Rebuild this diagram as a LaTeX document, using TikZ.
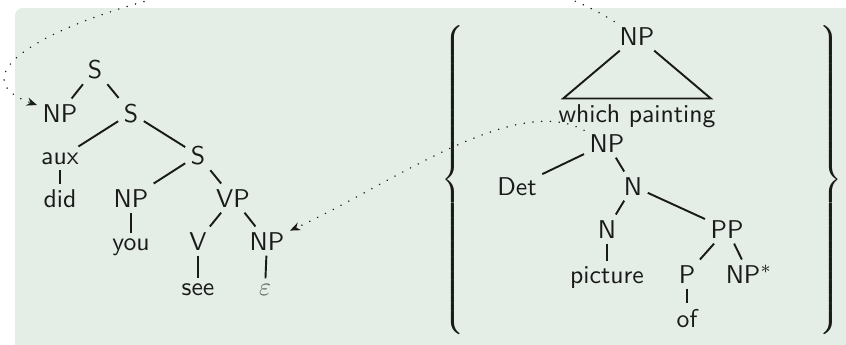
\documentclass[tikz,border=0pt]{standalone}
\usetikzlibrary{arrows.meta}
\definecolor{bg}{HTML}{E4EEE6}
\definecolor{ink}{HTML}{1A1A1A}
\definecolor{epsgray}{HTML}{5E5E5E}
\begin{document}
\begin{tikzpicture}[x=0.389pt,y=-0.389pt, font=\sffamily,
  tn/.style={anchor=base, inner sep=2pt, text=ink},
  edge/.style={draw=ink, line width=0.75pt},
  link/.style={draw=ink, line width=0.65pt, dash pattern=on 0.01pt off 3.4pt, line cap=round, -{Stealth[length=4pt,width=3.2pt]}}]
\useasboundingbox (0,0) rectangle (846,344);
\fill[bg, rounded corners=3pt] (15,8) rectangle (880,360);
% left tree
\node[tn] (s1) at (95,78) {S};
\node[tn] (np1) at (60,122) {NP};
\node[tn] (s2) at (131,122) {S};
\node[tn] (aux) at (60,164) {aux};
\node[tn] (s3) at (198,164) {S};
\node[tn] (did) at (60,207) {did};
\node[tn] (np2) at (131,207) {NP};
\node[tn] (vp) at (233,207) {VP};
\node[tn] (you) at (131,250) {you};
\node[tn] (v) at (198,250) {V};
\node[tn] (np3) at (267,250) {NP};
\node[tn] (see) at (198,295) {see};
\node[tn, text=epsgray] (eps) at (265,295) {$\varepsilon$};
\draw[edge] (s1) -- (np1);
\draw[edge] (s1) -- (s2);
\draw[edge] (s2) -- (aux);
\draw[edge] (s2) -- (s3);
\draw[edge] (s3) -- (np2);
\draw[edge] (s3) -- (vp);
\draw[edge] (aux) -- (did);
\draw[edge] (np2) -- (you);
\draw[edge] (vp) -- (v);
\draw[edge] (vp) -- (np3);
\draw[edge] (v) -- (see);
\draw[edge] (np3) -- (eps);
% braces
\node[text=ink, inner sep=0pt] (lb) at (454,180) {$\left\{\vcenter{\hbox{\rule{0pt}{122pt}}}\right.$};
\node[text=ink, inner sep=0pt] (rb) at (829,180) {$\left.\vcenter{\hbox{\rule{0pt}{122pt}}}\right\}$};
% right tree
\node[tn] (r0) at (637,45) {NP};
\node[tn, inner xsep=-2pt] (wp) at (637,122) {which painting};
\node[tn] (r1) at (607,152) {NP};
\node[tn] (det) at (517,195) {Det};
\node[tn] (r2) at (633,195) {N};
\node[tn] (r3) at (607,238) {N};
\node[tn] (pp) at (727,238) {PP};
\node[tn] (pic) at (607,283) {picture};
\node[tn] (p) at (687,283) {P};
\node[tn] (np4) at (749,283) {NP$^*$};
\node[tn] (of) at (687,327) {of};
\draw[edge] (r0) -- (wp.north west) -- (wp.north east) -- (r0);
\draw[edge] (r1) -- (det);
\draw[edge] (r1) -- (r2);
\draw[edge] (r2) -- (r3);
\draw[edge] (r2) -- (pp);
\draw[edge] (r3) -- (pic);
\draw[edge] (pp) -- (p);
\draw[edge] (pp) -- (np4);
\draw[edge] (p) -- (of);
% movement links
\draw[link] (r0) .. controls (400,-115) and (-120,50) .. (np1);
\draw[link] (r1) .. controls (515,92) and (390,185) .. (np3);
\end{tikzpicture}
\end{document}
